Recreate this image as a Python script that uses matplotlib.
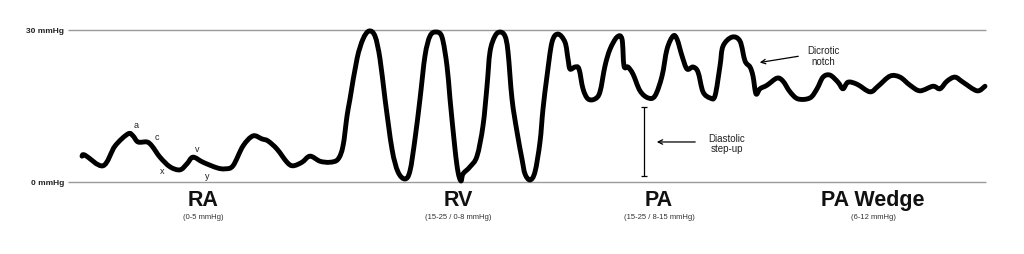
import matplotlib
matplotlib.use("Agg")
import matplotlib.pyplot as plt
import numpy as np
from matplotlib.path import Path
from matplotlib.patches import PathPatch

# time (arbitrary units along the trace) and pressure (mmHg)
t = [82, 85, 103, 115, 128, 133, 138, 147, 152, 160, 170, 180, 187, 193, 203, 217, 225, 233,
     243, 253, 262, 268, 277, 287, 293, 302, 310, 320, 330, 338, 343, 347, 350, 357, 363, 369,
     375, 380, 385, 392, 398, 405, 410, 415, 420, 425, 430, 436, 442, 447, 450, 455, 458, 461,
     463, 470, 477, 483, 487, 490, 495, 500, 505, 508, 512, 517, 522, 525, 530, 535, 540, 543,
     547, 552, 558, 565, 568, 570, 575, 579, 583, 588, 595, 600, 605, 610, 617, 622, 624, 628,
     633, 640, 648, 655, 662, 667, 673, 677, 682, 687, 693, 698, 703, 710, 715, 720, 723, 732,
     740, 745, 750, 753, 756, 760, 767, 777, 783, 790, 798, 810, 817, 823, 830, 838, 843, 848,
     857, 870, 878, 890, 900, 910, 920, 933, 940, 947, 955, 963, 977, 985]
pressure = [5.1, 5.3, 3.2, 7.1, 9.5, 9.1, 7.9, 7.9, 7.1, 4.9, 3.0, 2.4, 3.6, 4.9, 3.9, 2.8, 2.6, 3.2,
            7.1, 9.1, 8.5, 8.1, 6.5, 3.9, 3.2, 3.9, 5.1, 4.1, 3.9, 4.5, 7.1, 13.0, 16.4, 24.3, 28.2, 29.8,
            28.8, 24.3, 16.4, 6.5, 2.0, 0.6, 2.2, 8.5, 16.4, 24.9, 28.8, 29.6, 28.6, 22.9, 16.4, 6.5, 2.0, 0.2,
            1.6, 3.0, 5.1, 11.1, 18.9, 25.7, 28.8, 29.6, 28.8, 25.7, 16.4, 9.9, 4.5, 1.6, 0.4, 2.0, 7.9, 14.4,
            20.9, 27.6, 29.2, 27.6, 24.3, 22.3, 22.7, 22.3, 18.4, 16.4, 16.4, 17.8, 22.9, 26.2, 28.6, 28.2, 22.9, 22.7,
            21.3, 18.0, 16.6, 17.0, 20.9, 26.2, 28.8, 28.2, 24.9, 22.3, 22.7, 21.7, 17.8, 16.6, 17.0, 22.9, 26.8, 28.6,
            27.8, 23.9, 22.7, 20.9, 17.4, 18.4, 19.1, 20.5, 19.9, 17.8, 16.4, 16.6, 18.4, 20.7, 21.1, 19.7, 18.4, 19.7,
            19.3, 17.8, 18.9, 20.9, 20.7, 19.1, 18.0, 18.9, 18.4, 19.9, 20.7, 19.7, 18.0, 18.9]

ref_levels = [0, 30]
ref_labels = ["0 mmHg", "30 mmHg"]

regions = ["RA", "RV", "PA", "PA Wedge"]
region_x = [203, 458, 659, 873]
region_ranges = ["(0-5 mmHg)", "(15-25 / 0-8 mmHg)", "(15-25 / 8-15 mmHg)", "(6-12 mmHg)"]

wave_letters = ["a", "c", "x", "v", "y"]
wave_letter_pos = [(136, 11.3), (157, 8.9), (162, 2.2), (197, 6.7), (207, 1.2)]

plt.rcParams['font.family'] = ['Liberation Sans', 'DejaVu Sans']

fig = plt.figure(figsize=(10.24, 2.55), dpi=100)
ax = fig.add_axes([0, 0, 1, 1])
ax.set_xlim(0, 1024)
ax.set_ylim(-14.21, 36.12)
ax.axis("off")

ax.hlines(ref_levels, 68, 986, color="#9a9a9a", lw=1.0, zorder=1)
for lv, lab in zip(ref_levels, ref_labels):
    ax.text(64, lv, lab, ha="right", va="center", fontsize=6, fontweight="bold", color="#222222")

# smooth rendering of the traced points (Catmull-Rom drawn as cubic Bezier segments)
P = np.column_stack([t, pressure]).astype(float)
verts = [tuple(P[0])]
codes = [Path.MOVETO]
n = len(P)
for i in range(n - 1):
    p0 = P[max(i - 1, 0)]
    p1 = P[i]
    p2 = P[i + 1]
    p3 = P[min(i + 2, n - 1)]
    c1 = p1 + (p2 - p0) / 6.0
    c2 = p2 - (p3 - p1) / 6.0
    verts += [tuple(c1), tuple(c2), tuple(p2)]
    codes += [Path.CURVE4, Path.CURVE4, Path.CURVE4]
trace = PathPatch(Path(verts, codes), facecolor="none", edgecolor="black", lw=3.5,
                  joinstyle="round", capstyle="round", zorder=3)
ax.add_patch(trace)

for name, x, rng in zip(regions, region_x, region_ranges):
    ax.text(x, -3.4, name, ha="center", va="center", fontsize=15.5, fontweight="bold", color="#111111")
    ax.text(x, -6.8, rng, ha="center", va="center", fontsize=5.5, color="#333333")

for letter, (x, y) in zip(wave_letters, wave_letter_pos):
    ax.text(x, y, letter, ha="center", va="center", fontsize=6.5, color="#222222")

# Dicrotic notch annotation
ax.annotate("", xy=(757, 23.5), xytext=(801, 24.9),
            arrowprops=dict(arrowstyle="->", color="black", lw=0.9, mutation_scale=8))
ax.text(823, 24.9, "Dicrotic\nnotch", ha="center", va="center", fontsize=7, color="#222222", linespacing=1.1)

# Diastolic step-up
ax.vlines(644, 1.2, 14.8, color="black", lw=0.9)
ax.hlines([1.2, 14.8], 641, 647, color="black", lw=0.9)
ax.annotate("", xy=(654, 7.9), xytext=(698, 7.9),
            arrowprops=dict(arrowstyle="->", color="black", lw=0.9, mutation_scale=8))
ax.text(727, 7.7, "Diastolic\nstep-up", ha="center", va="center", fontsize=7, color="#222222", linespacing=1.1)

fig.savefig("out.png", dpi=100, facecolor="white")
